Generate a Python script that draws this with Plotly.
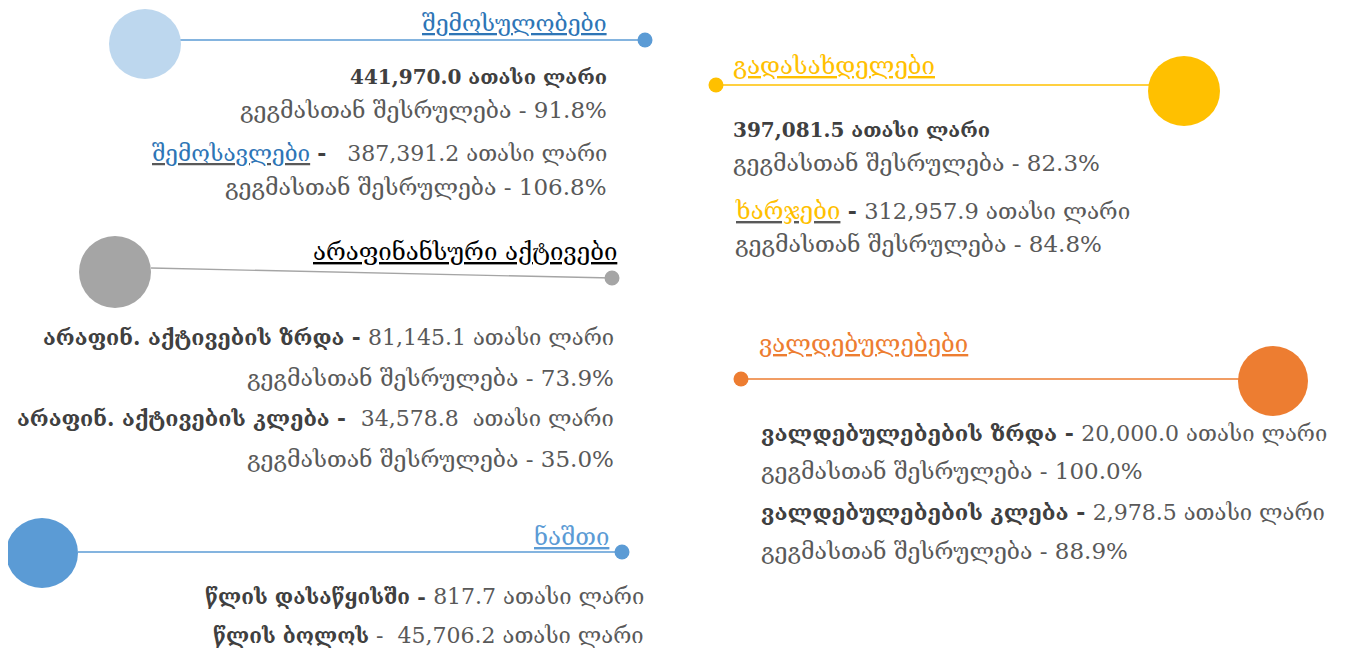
import plotly.graph_objects as go

W, H = 1349, 653
OFF = 8  # page body margin
FONT = "DejaVu Serif, DejaVu Sans, sans-serif"
DARK = "#404040"
GRAY = "#595959"

# ---- data ----
section_titles = ["შემოსულობები", "არაფინანსური აქტივები", "ნაშთი", "გადასახდელები", "ვალდებულებები"]
section_colors = ["#2E75B6", "#000000", "#5B9BD5", "#FFC000", "#ED7D31"]
circle_colors = ["#BDD7EE", "#A5A5A5", "#5B9BD5", "#FFC000", "#ED7D31"]
line_colors = ["#5B9BD5", "#A5A5A5", "#5B9BD5", "#FFC000", "#ED7D31"]

unit = "ათასი ლარი"
plan = "გეგმასთან შესრულება"

receipts_total = "441,970.0"
receipts_pct = "91.8%"
revenue_label = "შემოსავლები"
revenue_value = "387,391.2"
revenue_pct = "106.8%"

nfa_inc_label = "არაფინ. აქტივების ზრდა"
nfa_inc_value = "81,145.1"
nfa_inc_pct = "73.9%"
nfa_dec_label = "არაფინ. აქტივების კლება"
nfa_dec_value = "34,578.8"
nfa_dec_pct = "35.0%"

bal_start_label = "წლის დასაწყისში"
bal_start_value = "817.7"
bal_end_label = "წლის ბოლოს"
bal_end_value = "45,706.2"

pay_total = "397,081.5"
pay_pct = "82.3%"
exp_label = "ხარჯები"
exp_value = "312,957.9"
exp_pct = "84.8%"

liab_inc_label = "ვალდებულებების ზრდა"
liab_inc_value = "20,000.0"
liab_inc_pct = "100.0%"
liab_dec_label = "ვალდებულებების კლება"
liab_dec_value = "2,978.5"
liab_dec_pct = "88.9%"

# ---- layout geometry ----
big = [(145, 44, 36, 35), (115, 272, 36, 36), (42, 553, 36, 35), (1184, 91, 36, 35), (1273, 381, 35, 35)]
lines = [(180, 40, 645, 40), (151, 268, 612, 278), (78, 552, 622, 552), (716, 85, 1150, 85), (741, 379, 1240, 379)]
dot_pts = [(645, 40), (612, 278), (622, 552), (716, 85), (741, 379)]
dot_r = 7.5

SZ_TITLE = 24
SZ_TEXT = 23
SZ_BOLD = 20
SZ_NUM = 22

fig = go.Figure()
shapes = []
for (cx, cy, rx, ry), (x0, y0, x1, y1), lc, cc in zip(big, lines, line_colors, circle_colors):
    shapes.append(dict(type="line", x0=x0, y0=y0, x1=x1, y1=y1, line=dict(color=lc, width=1.3), layer="below"))
    shapes.append(dict(type="circle", x0=cx - rx, x1=cx + rx, y0=cy - ry, y1=cy + ry,
                       fillcolor=cc, line=dict(width=0)))
for (dx, dy), lc in zip(dot_pts, line_colors):
    shapes.append(dict(type="circle", x0=dx - dot_r, x1=dx + dot_r, y0=dy - dot_r, y1=dy + dot_r,
                       fillcolor=lc, line=dict(width=0)))

ann = []
def add(x, y, text, anchor, size=SZ_TEXT, color=GRAY):
    ann.append(dict(x=x, y=y, xref="x", yref="y", text=text, showarrow=False, borderpad=0,
                    xanchor=anchor, yanchor="middle", font=dict(family=FONT, size=size, color=color)))

def sp(t, c=GRAY, size=None):
    s = f"font-size:{size}px;" if size else ""
    return f"<span style='color:{c};{s}'>{t}</span>"

def num(v, size=SZ_NUM):
    return sp(f"{v} {unit}", GRAY, size)

# titles
title_pos = [(608, 23, 23, "right"), (618, 252, 24, "right"), (610, 537, 24, "right"),
             (732, 66, 24, "left"), (758, 344, 24, "left")]
for (x, y, s, a), t, c in zip(title_pos, section_titles, section_colors):
    add(x, y, f"<u>{t}</u>", a, size=s, color=c)

# receipts block
add(608, 77, f"<b>{sp(receipts_total + ' ' + unit, DARK)}</b>", "right", size=SZ_BOLD)
add(608, 110, f"{plan} - {receipts_pct}", "right")
add(608, 153, f"<u>{sp(revenue_label, '#2E75B6', 22.5)}</u>{sp(' <b>-</b>   ', DARK, SZ_NUM)}{num(revenue_value)}", "right")
add(608, 187, f"{plan} - {revenue_pct}", "right")

# non-financial assets block
add(615, 337, f"<b>{sp(nfa_inc_label + ' -', DARK, 21.5)}</b> {num(nfa_inc_value)}", "right")
add(615, 378, f"{plan} - {nfa_inc_pct}", "right")
add(615, 418, f"<b>{sp(nfa_dec_label + ' -', DARK, 21.5)}</b>  {sp(nfa_dec_value + '  ' + unit, GRAY, SZ_NUM)}", "right")
add(615, 459, f"{plan} - {nfa_dec_pct}", "right")

# balance block
add(645, 596, f"<b>{sp(bal_start_label + ' -', DARK, 20.7)}</b> {num(bal_start_value)}", "right")
add(645, 635, f"<b>{sp(bal_end_label, DARK, 20.7)}</b>{sp(' -  ', GRAY, SZ_NUM)}{num(bal_end_value)}", "right")

# payments block
add(732, 130, f"<b>{sp(pay_total + ' ' + unit, DARK)}</b>", "left", size=SZ_BOLD)
add(732, 163, f"{plan} - {pay_pct}", "left")
add(734, 211, f"<u>{sp(exp_label, '#FFC000', SZ_TITLE)}</u> <b>{sp('-', DARK, SZ_NUM)}</b> {num(exp_value, 22.5)}", "left")
add(734, 244, f"{plan} - {exp_pct}", "left")

# liabilities block
add(760, 433, f"<b>{sp(liab_inc_label + ' -', DARK, 22)}</b> {num(liab_inc_value)}", "left")
add(760, 471, f"{plan} - {liab_inc_pct}", "left")
add(760, 512, f"<b>{sp(liab_dec_label + ' -', DARK, 22)}</b> {num(liab_dec_value)}", "left")
add(760, 551, f"{plan} - {liab_dec_pct}", "left")

fig.update_layout(
    width=W, height=H, margin=dict(l=0, r=0, t=0, b=0),
    paper_bgcolor="white", plot_bgcolor="white",
    xaxis=dict(range=[OFF, W + OFF], visible=False, fixedrange=True),
    yaxis=dict(range=[H + OFF, OFF], visible=False, fixedrange=True),
    shapes=shapes, annotations=ann, showlegend=False,
)
fig.write_html("out.html")
